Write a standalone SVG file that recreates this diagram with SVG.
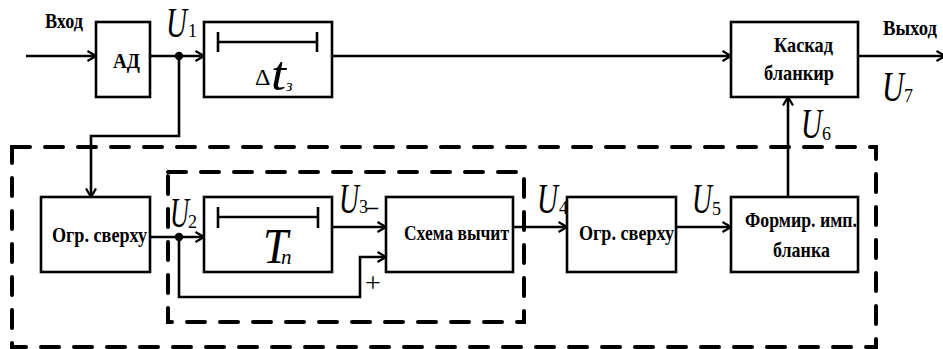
<svg xmlns="http://www.w3.org/2000/svg" width="943" height="349" viewBox="0 0 943 349" font-family="Liberation Serif, serif">
<defs>
<marker id="arr" viewBox="0 0 10 12" refX="9.5" refY="6" markerWidth="10" markerHeight="12" markerUnits="userSpaceOnUse" orient="auto">
<path d="M1,1 L9.5,6 L1,11" fill="none" stroke="#000" stroke-width="2.2"/>
</marker>
<style>
.box{fill:#fff;stroke:#000;stroke-width:2.6}
.ln{fill:none;stroke:#000;stroke-width:2.6}
.ar{fill:none;stroke:#000;stroke-width:2.6;marker-end:url(#arr)}
.dash{fill:none;stroke:#000;stroke-width:4;stroke-dasharray:18 15;stroke-linecap:round}
.t{font-weight:bold;font-size:22px;fill:#000}
.u{font-size:42px;fill:#000}
.s{font-size:18px;fill:#000}
.si{font-size:19px;fill:#000}
</style>
</defs>
<g id="frames">
<rect class="dash" x="12" y="147" width="864" height="200"/>
<rect class="dash" x="168" y="172" width="356" height="150"/>
</g>
<g id="connectors">
<line class="ar" x1="26" y1="56" x2="96" y2="56"/>
<line class="ar" x1="150" y1="56" x2="204" y2="56"/>
<polyline class="ar" points="179,56 179,136 91,136 91,197"/>
<line class="ar" x1="332" y1="56" x2="731" y2="56"/>
<line class="ar" x1="858" y1="56" x2="945" y2="56"/>
<line class="ar" x1="150" y1="237" x2="204" y2="237"/>
<line class="ar" x1="332" y1="227" x2="386" y2="227"/>
<polyline class="ar" points="179,237 179,297 360,297 360,257 386,257"/>
<line class="ar" x1="513" y1="227" x2="567" y2="227"/>
<line class="ar" x1="676" y1="227" x2="731" y2="227"/>
<line class="ar" x1="788" y1="197" x2="788" y2="97"/>
<circle cx="179" cy="56" r="4.2" fill="#000"/>
<circle cx="179" cy="237" r="4.2" fill="#000"/>
</g>
<g id="labels">
<text class="t" x="45" y="28" style="font-size:20px" textLength="38" lengthAdjust="spacingAndGlyphs">Вход</text>
<text class="t" x="883" y="35" style="font-size:20px" textLength="54" lengthAdjust="spacingAndGlyphs">Выход</text>
<text class="u" font-style="italic" x="166" y="37" textLength="21" lengthAdjust="spacingAndGlyphs">U</text><text class="s" x="188" y="37">1</text>
<text class="u" font-style="italic" x="170" y="227" textLength="19" lengthAdjust="spacingAndGlyphs">U</text><text class="s" x="188" y="228">2</text>
<text class="u" font-style="italic" x="339" y="213" textLength="20" lengthAdjust="spacingAndGlyphs">U</text><text class="s" x="359" y="213">3</text>
<text class="s" x="367" y="214" style="font-size:22px;font-weight:bold">–</text>
<text class="s" x="365" y="292" style="font-size:28px">+</text>
<text class="u" font-style="italic" x="537" y="213" textLength="21" lengthAdjust="spacingAndGlyphs">U</text><text class="s" x="559" y="214">4</text>
<text class="u" font-style="italic" x="692" y="213" textLength="20" lengthAdjust="spacingAndGlyphs">U</text><text class="s" x="712" y="215">5</text>
<text class="u" font-style="italic" x="801" y="138" textLength="21" lengthAdjust="spacingAndGlyphs">U</text><text class="s" x="822" y="140">6</text>
<text class="u" font-style="italic" x="882" y="101" textLength="22" lengthAdjust="spacingAndGlyphs">U</text><text class="s" x="904" y="102">7</text>
</g>
<g id="ad">
<rect class="box" x="96" y="22" width="54" height="75"/>
<text class="t" x="113" y="68" textLength="27" lengthAdjust="spacingAndGlyphs">АД</text>
</g>
<g id="delay">
<rect class="box" x="204" y="22" width="128" height="75"/>
<path class="ln" d="M218,32 V52 M218,42 H317 M317,32 V52"/>
<text class="s" x="255" y="85" style="font-size:24px">Δ</text>
<text class="u" font-style="italic" x="271" y="90" style="font-size:48px" textLength="15" lengthAdjust="spacingAndGlyphs">t</text>
<text class="si" font-style="italic" x="286" y="91" style="font-size:17px">з</text>
</g>
<g id="kaskad">
<rect class="box" x="731" y="22" width="127" height="75"/>
<text class="t" x="774" y="52" textLength="59" lengthAdjust="spacingAndGlyphs">Каскад</text>
<text class="t" x="764" y="80" textLength="70" lengthAdjust="spacingAndGlyphs">бланкир</text>
</g>
<g id="ogr1">
<rect class="box" x="41" y="197" width="109" height="75"/>
<text class="t" x="52" y="242" textLength="95" lengthAdjust="spacingAndGlyphs">Огр. сверху</text>
</g>
<g id="tn">
<rect class="box" x="204" y="197" width="128" height="75"/>
<path class="ln" d="M218,207 V228 M218,217 H318 M318,207 V228"/>
<text class="u" font-style="italic" x="263" y="263" style="font-size:50px" textLength="25" lengthAdjust="spacingAndGlyphs">T</text>
<text class="si" font-style="italic" x="281" y="264" style="font-size:21px">n</text>
</g>
<g id="subtract">
<rect class="box" x="386" y="197" width="127" height="75"/>
<text class="t" x="404" y="240" textLength="105" lengthAdjust="spacingAndGlyphs">Схема вычит</text>
</g>
<g id="ogr2">
<rect class="box" x="567" y="197" width="109" height="75"/>
<text class="t" x="579" y="240" textLength="95" lengthAdjust="spacingAndGlyphs">Огр. сверху</text>
</g>
<g id="former">
<rect class="box" x="731" y="197" width="127" height="75"/>
<text class="t" x="745" y="227" textLength="112" lengthAdjust="spacingAndGlyphs">Формир. имп.</text>
<text class="t" x="773" y="257" textLength="57" lengthAdjust="spacingAndGlyphs">бланка</text>
</g>
</svg>
